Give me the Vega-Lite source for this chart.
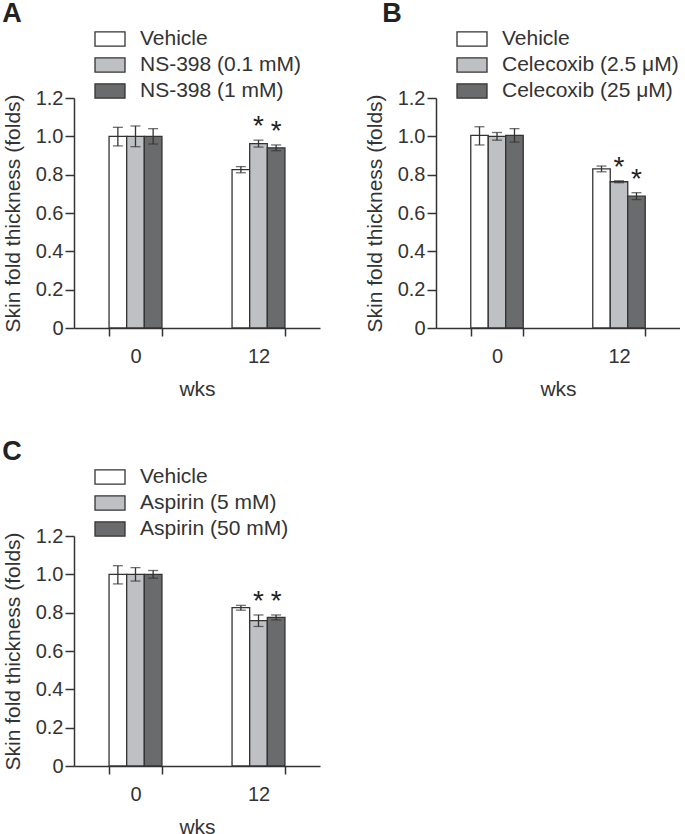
{
  "$schema": "https://vega.github.io/schema/vega-lite/v6.json",
  "padding": {"left": 2, "top": 0, "right": 0, "bottom": 0},
  "background": "white",
  "config": {
    "font": "Liberation Sans",
    "view": {"stroke": null},
    "axis": {"domainColor": "#333", "tickColor": "#333", "labelColor": "#333", "titleColor": "#333", "labelFontSize": 20, "titleFontSize": 21, "titleFontWeight": "normal", "domainWidth": 1.5, "tickWidth": 1.5, "grid": false, "labelOverlap": false},
    "axisY": {"labelOverlap": false, "title": "Skin fold thickness (folds)", "values": [0, 0.2, 0.4, 0.6, 0.8, 1.0, 1.2], "labelExpr": "datum.value == 0 ? '0' : format(datum.value, '.1f')", "tickSize": 9, "labelPadding": 2, "titlePadding": 12},
    "legend": {"orient": "none", "legendX": 20, "legendY": -75, "title": null, "symbolType": "M-1,-0.47H1V0.47H-1Z", "symbolSize": 900, "symbolStrokeColor": "#333", "symbolStrokeWidth": 1.3, "labelFontSize": 21, "labelColor": "#333", "labelOffset": 14, "rowPadding": -3, "labelLimit": 400},
    "title": {"fontSize": 27, "fontWeight": "bold", "anchor": "start", "frame": "bounds", "color": "#222", "offset": -5}
  },
  "columns": 2,
  "spacing": {"row": 39, "column": 44},
  "resolve": {"scale": {"fill": "independent", "xOffset": "independent", "x": "independent", "y": "independent"}},
  "datasets": {
    "d": [
      {"panel": "A", "week": "0", "group": "Vehicle", "mean": 1.0, "lo": 0.95, "hi": 1.047, "sig": false},
      {"panel": "A", "week": "0", "group": "NS-398 (0.1 mM)", "mean": 1.0, "lo": 0.946, "hi": 1.054, "sig": false},
      {"panel": "A", "week": "0", "group": "NS-398 (1 mM)", "mean": 1.0, "lo": 0.96, "hi": 1.04, "sig": false},
      {"panel": "A", "week": "12", "group": "Vehicle", "mean": 0.826, "lo": 0.81, "hi": 0.842, "sig": false},
      {"panel": "A", "week": "12", "group": "NS-398 (0.1 mM)", "mean": 0.962, "lo": 0.944, "hi": 0.98, "sig": true},
      {"panel": "A", "week": "12", "group": "NS-398 (1 mM)", "mean": 0.94, "lo": 0.925, "hi": 0.955, "sig": true},
      {"panel": "B", "week": "0", "group": "Vehicle", "mean": 1.005, "lo": 0.955, "hi": 1.05, "sig": false},
      {"panel": "B", "week": "0", "group": "Celecoxib (2.5 μM)", "mean": 1.0, "lo": 0.98, "hi": 1.02, "sig": false},
      {"panel": "B", "week": "0", "group": "Celecoxib (25 μM)", "mean": 1.005, "lo": 0.97, "hi": 1.04, "sig": false},
      {"panel": "B", "week": "12", "group": "Vehicle", "mean": 0.83, "lo": 0.815, "hi": 0.845, "sig": false},
      {"panel": "B", "week": "12", "group": "Celecoxib (2.5 μM)", "mean": 0.763, "lo": 0.758, "hi": 0.768, "sig": true},
      {"panel": "B", "week": "12", "group": "Celecoxib (25 μM)", "mean": 0.688, "lo": 0.67, "hi": 0.706, "sig": true},
      {"panel": "C", "week": "0", "group": "Vehicle", "mean": 1.0, "lo": 0.95, "hi": 1.045, "sig": false},
      {"panel": "C", "week": "0", "group": "Aspirin (5 mM)", "mean": 1.0, "lo": 0.965, "hi": 1.035, "sig": false},
      {"panel": "C", "week": "0", "group": "Aspirin (50 mM)", "mean": 1.0, "lo": 0.98, "hi": 1.02, "sig": false},
      {"panel": "C", "week": "12", "group": "Vehicle", "mean": 0.826, "lo": 0.813, "hi": 0.838, "sig": false},
      {"panel": "C", "week": "12", "group": "Aspirin (5 mM)", "mean": 0.758, "lo": 0.728, "hi": 0.788, "sig": true},
      {"panel": "C", "week": "12", "group": "Aspirin (50 mM)", "mean": 0.775, "lo": 0.762, "hi": 0.788, "sig": true}
    ]
  },
  "concat": [
    {
      "title": {"text": "A"},
      "width": 246, "height": 230,
      "data": {"name": "d"},
      "transform": [{"filter": "datum.panel == 'A'"}],
      "encoding": {
        "x": {"field": "week", "type": "nominal", "sort": ["0", "12"], "scale": {"paddingInner": 0.57, "paddingOuter": 0.285}, "axis": {"title": "wks", "labelAngle": 0, "tickBand": "extent", "tickSize": 8, "labelPadding": 10, "titlePadding": 12}},
        "xOffset": {"field": "group", "type": "nominal", "sort": ["Vehicle", "NS-398 (0.1 mM)", "NS-398 (1 mM)"], "scale": {"paddingInner": 0, "paddingOuter": 0}}
      },
      "layer": [
        {"mark": {"type": "bar", "stroke": "#333", "strokeWidth": 1.3},
         "encoding": {
           "y": {"field": "mean", "type": "quantitative", "scale": {"domain": [0, 1.2], "nice": false}, "title": "Skin fold thickness (folds)", "axis": {"labelOverlap": false}},
           "fill": {"field": "group", "type": "nominal", "scale": {"domain": ["Vehicle", "NS-398 (0.1 mM)", "NS-398 (1 mM)"], "range": ["#ffffff", "#bfc0c4", "#6a6b6d"]}}
         }},
        {"mark": {"type": "rule", "stroke": "#333", "strokeWidth": 1.3}, "encoding": {"y": {"field": "lo", "type": "quantitative", "title": "Skin fold thickness (folds)", "axis": {"labelOverlap": false}}, "y2": {"field": "hi"}}},
        {"mark": {"type": "tick", "orient": "horizontal", "size": 10, "thickness": 1.3, "color": "#333"}, "encoding": {"y": {"field": "hi", "type": "quantitative", "title": "Skin fold thickness (folds)", "axis": {"labelOverlap": false}}}},
        {"mark": {"type": "tick", "orient": "horizontal", "size": 10, "thickness": 1.3, "color": "#333"}, "encoding": {"y": {"field": "lo", "type": "quantitative", "title": "Skin fold thickness (folds)", "axis": {"labelOverlap": false}}}},
        {"transform": [{"filter": "datum.sig"}], "mark": {"type": "text", "text": "*", "fontSize": 28, "dy": -5, "baseline": "alphabetic", "color": "#222"}, "encoding": {"y": {"field": "hi", "type": "quantitative", "title": "Skin fold thickness (folds)", "axis": {"labelOverlap": false}}}}
      ]
    },
    {
      "title": {"text": "B", "dx": 18},
      "width": 244, "height": 230,
      "data": {"name": "d"},
      "transform": [{"filter": "datum.panel == 'B'"}],
      "encoding": {
        "x": {"field": "week", "type": "nominal", "sort": ["0", "12"], "scale": {"paddingInner": 0.57, "paddingOuter": 0.285}, "axis": {"title": "wks", "labelAngle": 0, "tickBand": "extent", "tickSize": 8, "labelPadding": 10, "titlePadding": 12}},
        "xOffset": {"field": "group", "type": "nominal", "sort": ["Vehicle", "Celecoxib (2.5 μM)", "Celecoxib (25 μM)"], "scale": {"paddingInner": 0, "paddingOuter": 0}}
      },
      "layer": [
        {"mark": {"type": "bar", "stroke": "#333", "strokeWidth": 1.3},
         "encoding": {
           "y": {"field": "mean", "type": "quantitative", "scale": {"domain": [0, 1.2], "nice": false}, "title": "Skin fold thickness (folds)", "axis": {"labelOverlap": false}},
           "fill": {"field": "group", "type": "nominal", "scale": {"domain": ["Vehicle", "Celecoxib (2.5 μM)", "Celecoxib (25 μM)"], "range": ["#ffffff", "#bfc0c4", "#6a6b6d"]}}
         }},
        {"mark": {"type": "rule", "stroke": "#333", "strokeWidth": 1.3}, "encoding": {"y": {"field": "lo", "type": "quantitative", "title": "Skin fold thickness (folds)", "axis": {"labelOverlap": false}}, "y2": {"field": "hi"}}},
        {"mark": {"type": "tick", "orient": "horizontal", "size": 10, "thickness": 1.3, "color": "#333"}, "encoding": {"y": {"field": "hi", "type": "quantitative", "title": "Skin fold thickness (folds)", "axis": {"labelOverlap": false}}}},
        {"mark": {"type": "tick", "orient": "horizontal", "size": 10, "thickness": 1.3, "color": "#333"}, "encoding": {"y": {"field": "lo", "type": "quantitative", "title": "Skin fold thickness (folds)", "axis": {"labelOverlap": false}}}},
        {"transform": [{"filter": "datum.sig"}], "mark": {"type": "text", "text": "*", "fontSize": 28, "dy": -5, "baseline": "alphabetic", "color": "#222"}, "encoding": {"y": {"field": "hi", "type": "quantitative", "title": "Skin fold thickness (folds)", "axis": {"labelOverlap": false}}}}
      ]
    },
    {
      "title": {"text": "C"},
      "width": 246, "height": 230,
      "data": {"name": "d"},
      "transform": [{"filter": "datum.panel == 'C'"}],
      "encoding": {
        "x": {"field": "week", "type": "nominal", "sort": ["0", "12"], "scale": {"paddingInner": 0.57, "paddingOuter": 0.285}, "axis": {"title": "wks", "labelAngle": 0, "tickBand": "extent", "tickSize": 8, "labelPadding": 10, "titlePadding": 12}},
        "xOffset": {"field": "group", "type": "nominal", "sort": ["Vehicle", "Aspirin (5 mM)", "Aspirin (50 mM)"], "scale": {"paddingInner": 0, "paddingOuter": 0}}
      },
      "layer": [
        {"mark": {"type": "bar", "stroke": "#333", "strokeWidth": 1.3},
         "encoding": {
           "y": {"field": "mean", "type": "quantitative", "scale": {"domain": [0, 1.2], "nice": false}, "title": "Skin fold thickness (folds)", "axis": {"labelOverlap": false}},
           "fill": {"field": "group", "type": "nominal", "scale": {"domain": ["Vehicle", "Aspirin (5 mM)", "Aspirin (50 mM)"], "range": ["#ffffff", "#bfc0c4", "#6a6b6d"]}}
         }},
        {"mark": {"type": "rule", "stroke": "#333", "strokeWidth": 1.3}, "encoding": {"y": {"field": "lo", "type": "quantitative", "title": "Skin fold thickness (folds)", "axis": {"labelOverlap": false}}, "y2": {"field": "hi"}}},
        {"mark": {"type": "tick", "orient": "horizontal", "size": 10, "thickness": 1.3, "color": "#333"}, "encoding": {"y": {"field": "hi", "type": "quantitative", "title": "Skin fold thickness (folds)", "axis": {"labelOverlap": false}}}},
        {"mark": {"type": "tick", "orient": "horizontal", "size": 10, "thickness": 1.3, "color": "#333"}, "encoding": {"y": {"field": "lo", "type": "quantitative", "title": "Skin fold thickness (folds)", "axis": {"labelOverlap": false}}}},
        {"transform": [{"filter": "datum.sig"}], "mark": {"type": "text", "text": "*", "fontSize": 28, "dy": -5, "baseline": "alphabetic", "color": "#222"}, "encoding": {"y": {"field": "hi", "type": "quantitative", "title": "Skin fold thickness (folds)", "axis": {"labelOverlap": false}}}}
      ]
    }
  ]
}
